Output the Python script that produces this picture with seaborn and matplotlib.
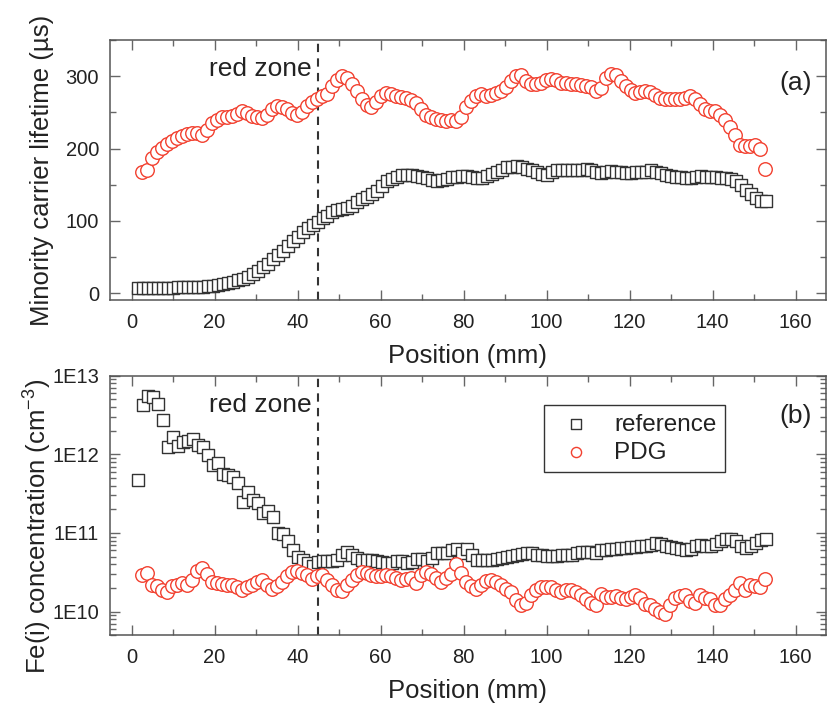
import numpy as np
import pandas as pd
import matplotlib
matplotlib.use("Agg")
import matplotlib.pyplot as plt
from matplotlib.ticker import MultipleLocator, FixedLocator, FixedFormatter, NullFormatter
import seaborn as sns

# ---------------- data ----------------
pos_ref = [1.6, 2.8, 4.0, 5.2, 6.4, 7.6, 8.8, 10.0, 11.2, 12.4, 13.6, 14.8, 16.0, 17.2, 18.4, 19.6,
           20.8, 22.0, 23.2, 24.4, 25.6, 26.8, 28.0, 29.2, 30.4, 31.6, 32.8, 34.0, 35.2, 36.4, 37.6,
           38.8, 40.0, 41.2, 42.4, 43.6, 44.8, 46.0, 47.2, 48.4, 49.6, 50.8, 52.0, 53.2, 54.4, 55.6,
           56.8, 58.0, 59.2, 60.4, 61.6, 62.8, 64.0, 65.2, 66.4, 67.6, 68.8, 70.0, 71.2, 72.4, 73.6,
           74.8, 76.0, 77.2, 78.4, 79.6, 80.8, 82.0, 83.2, 84.4, 85.6, 86.8, 88.0, 89.2, 90.4, 91.6,
           92.8, 94.0, 95.2, 96.4, 97.6, 98.8, 100.0, 101.2, 102.4, 103.6, 104.8, 106.0, 107.2, 108.4,
           109.6, 110.8, 112.0, 113.2, 114.4, 115.6, 116.8, 118.0, 119.2, 120.4, 121.6, 122.8, 124.0,
           125.2, 126.4, 127.6, 128.8, 130.0, 131.2, 132.4, 133.6, 134.8, 136.0, 137.2, 138.4, 139.6,
           140.8, 142.0, 143.2, 144.4, 145.6, 146.8, 148.0, 149.2, 150.4, 151.6, 152.8]

pos_pdg = [2.6, 3.8, 5.0, 6.2, 7.4, 8.6, 9.8, 11.0, 12.2, 13.4, 14.6, 15.8, 17.0, 18.2, 19.4, 20.6,
           21.8, 23.0, 24.2, 25.4, 26.6, 27.8, 29.0, 30.2, 31.4, 32.6, 33.8, 35.0, 36.2, 37.4, 38.6,
           39.8, 41.0, 42.2, 43.4, 44.6, 45.8, 47.0, 48.2, 49.4, 50.6, 51.8, 53.0, 54.2, 55.4, 56.6,
           57.8, 59.0, 60.2, 61.4, 62.6, 63.8, 65.0, 66.2, 67.4, 68.6, 69.8, 71.0, 72.2, 73.4, 74.6,
           75.8, 77.0, 78.2, 79.4, 80.6, 81.8, 83.0, 84.2, 85.4, 86.6, 87.8, 89.0, 90.2, 91.4, 92.6,
           93.8, 95.0, 96.2, 97.4, 98.6, 99.8, 101.0, 102.2, 103.4, 104.6, 105.8, 107.0, 108.2, 109.4,
           110.6, 111.8, 113.0, 114.2, 115.4, 116.6, 117.8, 119.0, 120.2, 121.4, 122.6, 123.8, 125.0,
           126.2, 127.4, 128.6, 129.8, 131.0, 132.2, 133.4, 134.6, 135.8, 137.0, 138.2, 139.4, 140.6,
           141.8, 143.0, 144.2, 145.4, 146.6, 147.8, 149.0, 150.2, 151.4, 152.6]

# (a) minority carrier lifetime, µs
tau_ref = [7, 7, 7, 7, 7, 7.5, 7.5, 7.5, 8, 8, 8, 8, 8.5, 9, 9.5, 10.5,
           12, 13, 14.5, 16, 18, 20, 23, 27, 31, 36, 41, 47, 53, 59, 66,
           72, 78, 84, 90, 95, 99, 104, 107, 112, 115, 117, 118, 121, 126, 130,
           133, 137, 142, 148, 155, 158, 161, 163, 164, 163, 162, 161, 159, 156, 155,
           157, 158, 160, 161, 162, 162, 161, 159, 159, 162, 165, 167, 171, 174, 175,
           176, 174, 172, 170, 168, 165, 164, 167, 170, 170, 170, 170, 171, 171,
           172, 171, 167, 166, 168, 169, 168, 167, 166, 166, 167, 167, 168,
           170, 168, 166, 163, 162, 161, 160, 159, 159, 161, 162, 161, 160,
           160, 159, 159, 158, 155, 149, 143, 137, 131, 127, 128]

tau_pdg = [167, 171, 187, 195, 201, 206, 210, 215, 218, 220, 221, 221, 219, 226, 235, 240,
           243, 244, 245, 248, 252, 249, 245, 243, 242, 247, 255, 259, 258, 254, 249,
           246, 251, 259, 265, 269, 272, 276, 286, 295, 300, 298, 289, 280, 268, 260,
           258, 265, 272, 277, 275, 272, 271, 270, 267, 263, 255, 246, 243, 241, 239,
           238, 240, 238, 243, 257, 266, 273, 275, 273, 274, 277, 279, 285, 294, 300,
           301, 294, 289, 289, 291, 295, 296, 295, 291, 290, 289, 289, 288, 287,
           285, 280, 283, 298, 303, 301, 294, 287, 281, 277, 278, 280, 278,
           274, 270, 268, 268, 268, 269, 270, 272, 268, 261, 255, 252, 252,
           247, 239, 230, 219, 205, 203, 204, 205, 200, 172]

# (b) Fe(i) concentration, cm^-3
fe_ref = [4.7e11, 4.2e12, 5.5e12, 5.3e12, 4.4e12, 2.7e12, 1.25e12, 1.64e12, 1.28e12, 1.45e12,
          1.49e12, 1.55e12, 1.31e12, 1.23e12, 9.8e11, 7.3e11, 7.7e11, 5.7e11, 5.5e11, 5.1e11,
          4.3e11, 2.5e11, 3.35e11, 2.6e11, 2.4e11, 1.8e11, 1.9e11, 1.6e11, 1.0e11, 9.8e10,
          8.0e10, 6.0e10, 4.9e10, 4.6e10, 4.2e10, 3.8e10, 4.3e10, 4.45e10, 4.45e10, 4.4e10,
          4.5e10, 5.2e10, 5.7e10, 5.2e10, 4.8e10, 4.5e10, 4.6e10, 4.5e10, 4.4e10, 4.3e10,
          4.2e10, 4.2e10, 4.4e10, 4.4e10, 4.2e10, 4.3e10, 4.7e10, 4.7e10, 4.4e10, 4.8e10,
          5.5e10, 5.5e10, 5.5e10, 6.0e10, 6.2e10, 5.6e10, 6.2e10, 5.2e10, 4.6e10, 4.5e10,
          4.6e10, 4.5e10, 4.7e10, 4.8e10, 4.9e10, 5.1e10, 5.3e10, 5.4e10, 5.5e10, 5.5e10,
          5.3e10, 5.2e10, 5.1e10, 5.1e10, 5.1e10, 5.2e10, 5.3e10, 5.3e10, 5.6e10, 5.8e10,
          5.8e10, 5.7e10, 5.6e10, 6.0e10, 6.1e10, 6.2e10, 6.2e10, 6.4e10, 6.5e10, 6.6e10,
          6.6e10, 6.8e10, 6.9e10, 7.1e10, 7.4e10, 7.3e10, 6.9e10, 6.6e10, 6.4e10, 6.3e10,
          6.1e10, 6.2e10, 6.8e10, 7.0e10, 6.9e10, 6.8e10, 7.2e10, 7.9e10, 8.4e10, 8.5e10,
          7.9e10, 6.8e10, 6.4e10, 6.8e10, 7.5e10, 8.1e10, 8.3e10]

fe_pdg = [2.9e10, 3.1e10, 2.15e10, 2.1e10, 1.9e10, 1.8e10, 2.1e10, 2.2e10, 2.3e10, 2.15e10,
          2.5e10, 3.3e10, 3.6e10, 3.0e10, 2.4e10, 2.3e10, 2.25e10, 2.2e10, 2.2e10, 2.05e10,
          1.9e10, 2.05e10, 2.2e10, 2.4e10, 2.55e10, 2.15e10, 1.95e10, 2.1e10, 2.4e10, 2.8e10,
          3.2e10, 3.3e10, 3.1e10, 2.95e10, 2.6e10, 2.8e10, 2.95e10, 2.5e10, 2.2e10, 1.9e10,
          1.85e10, 2.2e10, 2.5e10, 2.9e10, 3.2e10, 3.1e10, 2.9e10, 2.8e10, 2.85e10, 2.9e10,
          2.8e10, 2.7e10, 2.5e10, 2.6e10, 2.7e10, 2.3e10, 2.9e10, 3.2e10, 3.0e10, 2.7e10,
          2.35e10, 2.7e10, 3.0e10, 4.0e10, 3.1e10, 2.4e10, 2.1e10, 1.95e10, 2.2e10, 2.45e10,
          2.5e10, 2.4e10, 2.15e10, 1.95e10, 1.8e10, 1.4e10, 1.22e10, 1.3e10, 1.65e10, 1.9e10,
          2.05e10, 2.05e10, 2.05e10, 1.9e10, 1.8e10, 1.9e10, 1.9e10, 1.8e10, 1.65e10, 1.45e10,
          1.3e10, 1.2e10, 1.7e10, 1.55e10, 1.55e10, 1.6e10, 1.5e10, 1.45e10, 1.55e10, 1.65e10,
          1.5e10, 1.25e10, 1.2e10, 1.07e10, 1.0e10, 0.94e10, 1.2e10, 1.5e10, 1.6e10, 1.65e10,
          1.35e10, 1.3e10, 1.65e10, 1.5e10, 1.45e10, 1.2e10, 1.2e10, 1.45e10, 1.65e10, 1.9e10,
          2.3e10, 1.9e10, 2.2e10, 2.1e10, 2.05e10, 2.6e10]

series_names = ["reference", "PDG"]
red_zone_x = 45
lifetime_ticks = [0, 100, 200, 300]
fe_ticks = [1e10, 1e11, 1e12, 1e13]
fe_tick_labels = ["1E10", "1E11", "1E12", "1E13"]
x_ticks = [0, 20, 40, 60, 80, 100, 120, 140, 160]

assert len(pos_ref) == len(tau_ref) == len(fe_ref), (len(pos_ref), len(tau_ref), len(fe_ref))
assert len(pos_pdg) == len(tau_pdg) == len(fe_pdg), (len(pos_pdg), len(tau_pdg), len(fe_pdg))

df_ref = pd.DataFrame({"pos": pos_ref, "tau": tau_ref, "fe": fe_ref})
df_pdg = pd.DataFrame({"pos": pos_pdg, "tau": tau_pdg, "fe": fe_pdg})

# ---------------- style ----------------
sns.set_theme(style="ticks")
plt.rcParams["font.family"] = ["Liberation Sans", "DejaVu Sans"]
plt.rcParams["mathtext.default"] = "regular"
plt.rcParams["mathtext.fontset"] = "custom"
plt.rcParams["mathtext.rm"] = "Liberation Sans"

TEXT = "#222222"
SPINE = "#555555"
TICK = "#666666"
BLACK = "#333333"
RED = "#f2402f"

fig = plt.figure(figsize=(8.28, 7.10), dpi=100)
ax1 = fig.add_axes([110 / 828, 1 - 300 / 710, 716 / 828, 260 / 710])
ax2 = fig.add_axes([110 / 828, 1 - 635.3 / 710, 716 / 828, 259.6 / 710])

style = dict(facecolor="white", linewidth=1.0)

for ax, col in [(ax1, "tau"), (ax2, "fe")]:
    sns.scatterplot(data=df_ref, x="pos", y=col, ax=ax, marker="s", s=80,
                    edgecolor=BLACK, label=series_names[0], zorder=3, **style)
    sns.scatterplot(data=df_pdg, x="pos", y=col, ax=ax, marker="o", s=95,
                    edgecolor=RED, label=series_names[1], zorder=3, **style)
    ax.axvline(red_zone_x, color="#333333", lw=1.5, ls=(0, (4, 3)), zorder=2)
    ax.text(43.4, 0.86, "red zone", transform=ax.get_xaxis_transform(),
            ha="right", va="baseline", fontsize=19, color=TEXT)
    ax.set_xlim(-5.2, 167.3)
    ax.set_xticks(x_ticks)
    ax.xaxis.set_minor_locator(MultipleLocator(10))
    ax.set_xlabel("Position (mm)", fontsize=18.5, color=TEXT, labelpad=9)
    for s in ax.spines.values():
        s.set_visible(True)
        s.set_color(SPINE)
        s.set_linewidth(1.1)
    ax.tick_params(which="both", direction="in", top=True, right=True, color=TICK, width=1.0)
    ax.tick_params(which="major", length=7)
    ax.tick_params(which="minor", length=4)
    ax.tick_params(axis="x", which="major", labelsize=14.5, labelcolor=TEXT, pad=9)
    ax.tick_params(axis="y", which="major", labelsize=14.5, labelcolor=TEXT, pad=8)

# top panel
ax1.set_ylim(-9.3, 350)
ax1.set_yticks(lifetime_ticks)
ax1.yaxis.set_minor_locator(MultipleLocator(50))
ax1.set_ylabel("Minority carrier lifetime (µs)", fontsize=18.5, color=TEXT)
ax1.yaxis.set_label_coords(-0.078, 0.5)
ax1.text(0.98, 0.808, "(a)", transform=ax1.transAxes, ha="right", va="baseline",
         fontsize=19, color=TEXT)
ax1.get_legend().remove()

# bottom panel
ax2.set_yscale("log")
ax2.set_ylim(5e9, 1e13)
ax2.yaxis.set_major_locator(FixedLocator(fe_ticks))
ax2.yaxis.set_major_formatter(FixedFormatter(fe_tick_labels))
ax2.yaxis.set_minor_formatter(NullFormatter())
ax2.set_ylabel(r"Fe(i) concentration (cm$^{-3}$)", fontsize=18.5, color=TEXT)
ax2.yaxis.set_label_coords(-0.078, 0.42)
ax2.text(0.98, 0.819, "(b)", transform=ax2.transAxes, ha="right", va="baseline",
         fontsize=19, color=TEXT)
ax2.get_legend().remove()
leg = ax2.legend(loc="upper right", bbox_to_anchor=(0.859, 0.887), borderaxespad=0,
                 fontsize=17.5, markerscale=0.75, frameon=True, fancybox=False,
                 framealpha=1, edgecolor="#333333", handletextpad=0.55, labelspacing=0.25,
                 borderpad=0.35, handlelength=2.0)
leg.get_frame().set_linewidth(1.0)
for t in leg.get_texts():
    t.set_color(TEXT)

fig.savefig("out.png", dpi=100)
